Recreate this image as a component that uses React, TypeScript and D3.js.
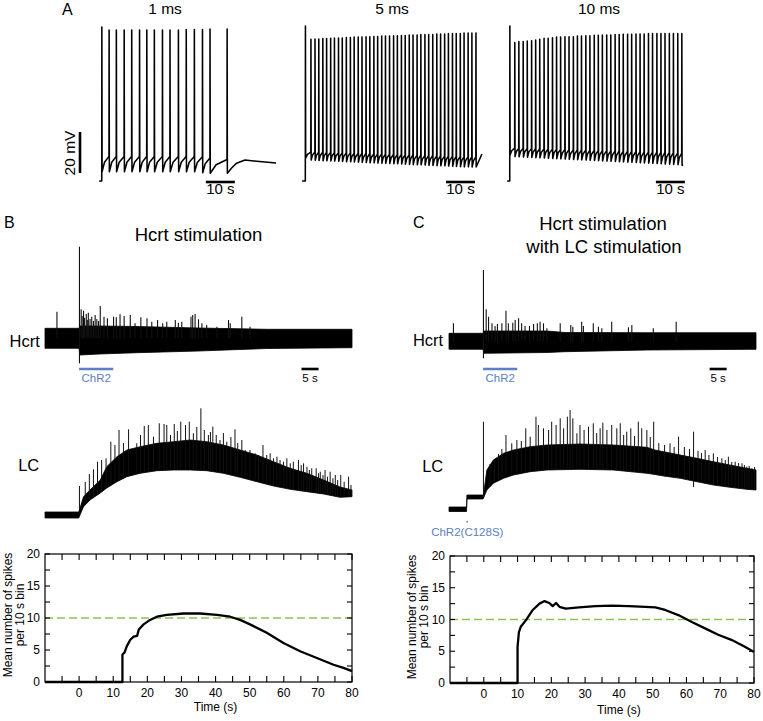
import React from "react";
import * as d3 from "d3";

const FONT = "'Liberation Sans', Arial, Helvetica, sans-serif";
const BLUE = "#5b80c3";
const GREEN = "#8cc153";

// ---------------- Panel A : membrane potential (t in s, V in mV) ----------------
const aTitles = ["1 ms", "5 ms", "10 ms"];

const spikeT1 = [0.6, 3.1, 5.6, 8.3, 10.9, 13.6, 16.1, 18.7, 21.5, 24.1, 27.0, 29.7, 32.5, 35.3, 37.9, 43.8];
const peak1 = [5.1, 3.7, 3.7, 3.7, 3.7, 3.7, 3.7, 3.7, 3.7, 3.7, 3.7, 3.9, 3.9, 3.9, 4.1, 4.1];
const thresh1 = [-70, -58.0, -58.0, -58.0, -58.0, -58.0, -58.0, -58.0, -58.0, -58.0, -58.0, -58.0, -58.0, -58.2, -58.8, -59.5];
const trough1 = [-65.5, -65.5, -65.5, -65.5, -65.5, -65.5, -65.5, -65.5, -65.5, -65.5, -65.5, -65.5, -65.5, -66.0, -66.2, -66.2];
const tail1T = [45.3, 47.1, 50.0, 53.0, 60.7];
const tail1V = [-63.8, -61.3, -59.8, -60.2, -61.2];

const spikeT5 = [0.8, 2.7, 4.1, 5.4, 6.8, 8.1, 9.5, 10.8, 12.2, 13.5, 14.9, 16.3, 17.6, 19.0, 20.3, 21.7, 23.0, 24.4, 25.7, 27.1, 28.4,
  29.8, 31.2, 32.5, 33.9, 35.2, 36.6, 37.9, 39.3, 40.6, 42.0, 43.3, 44.7, 46.1, 47.4, 48.8, 50.1, 51.5, 52.8, 54.2, 55.5, 56.9, 58.2, 59.6];
const peak5 = [5.6, -0.9, -0.7, -0.7, -0.5, -0.5, -0.4, -0.2, -0.2, -0.2, 0.0, 0.0, 0.2, 0.2, 0.2, 0.4, 0.4, 0.5, 0.5, 0.7,
  0.7, 0.7, 0.9, 0.9, 1.0, 1.0, 1.2, 1.2, 1.2, 1.4, 1.4, 1.5, 1.5, 1.7, 1.7, 1.7, 1.9, 1.9, 2.0, 2.0, 2.2, 2.2, 2.2, 2.2];
const thresh5 = [-70, -55.9, -55.9, -56.0, -56.0, -56.1, -56.1, -56.2, -56.3, -56.3,
  -56.4, -56.4, -56.5, -56.6, -56.6, -56.7, -56.7, -56.8, -56.9, -56.9,
  -57.0, -57.0, -57.1, -57.2, -57.2, -57.3, -57.3, -57.4, -57.5, -57.5,
  -57.6, -57.6, -57.7, -57.8, -57.8, -57.9, -57.9, -58.0, -58.1, -58.1,
  -58.2, -58.2, -58.3, -58.3];
const trough5 = [-58.8, -59.8, -59.9, -60.0, -60.1, -60.1, -60.2, -60.3, -60.4, -60.5,
  -60.6, -60.6, -60.7, -60.8, -60.9, -61.0, -61.1, -61.1, -61.2, -61.3,
  -61.4, -61.5, -61.6, -61.6, -61.7, -61.8, -61.9, -62.0, -62.1, -62.1,
  -62.2, -62.3, -62.4, -62.5, -62.6, -62.6, -62.7, -62.8, -62.9, -63.0,
  -63.1, -63.1, -63.2, -63.2];
const tail5T = [61.7];
const tail5V = [-56.8];

const spikeT10 = [0.6, 2.3, 3.7, 5.2, 6.6, 8.1, 9.5, 10.9, 12.4, 13.8, 15.3, 16.7, 18.1, 19.6, 21.0, 22.5, 23.9, 25.3, 26.8, 28.2, 29.7,
  31.1, 32.5, 34.0, 35.4, 36.9, 38.3, 39.7, 41.2, 42.6, 44.1, 45.5, 46.9, 48.4, 49.8, 51.3, 52.7, 54.1, 55.6, 57.0, 58.5, 59.9];
const peak10 = [5.6, -2.5, -2.0, -2.0, -1.7, -1.6, -1.2, -0.9, -0.4, -0.4, -0.1, 0.2, 0.2, 0.4, 0.4, 0.4, 0.7, 0.7, 0.9, 0.9, 1.1,
  1.1, 1.2, 1.2, 1.2, 1.4, 1.4, 1.6, 1.6, 1.6, 1.7, 1.7, 1.7, 1.9, 1.9, 1.9, 2.0, 2.0, 2.0, 2.0, 2.0, 2.0];
const thresh10 = [-70, -54.0, -54.1, -54.1, -54.2, -54.2, -54.3, -54.4, -54.4, -54.5, -54.5,
  -54.6, -54.7, -54.7, -54.8, -54.8, -54.9, -55.0, -55.0, -55.1, -55.1,
  -55.2, -55.3, -55.3, -55.4, -55.4, -55.5, -55.6, -55.6, -55.7, -55.7,
  -55.8, -55.9, -55.9, -56.0, -56.0, -56.1, -56.2, -56.2, -56.3, -56.4, -56.5];
const trough10 = [-57.3, -58.1, -58.2, -58.3, -58.4, -58.5, -58.6, -58.7, -58.8, -58.9, -59.0,
  -59.1, -59.2, -59.3, -59.4, -59.5, -59.6, -59.7, -59.8, -59.9, -60.0,
  -60.1, -60.2, -60.3, -60.4, -60.5, -60.6, -60.7, -60.8, -60.9, -61.0,
  -61.1, -61.2, -61.3, -61.4, -61.5, -61.6, -61.7, -61.8, -61.9, -62.0, -62.2];
const tail10T = [60.4];
const tail10V = [-62.4];

// ---------------- Panels B & C : extracellular traces (t in s from ChR2 onset, amplitude a.u.) ----------------
const hcrtB_T = [-10, 0, 0.2, 6, 17, 35, 55, 80];
const hcrtB_Hi = [9.7, 9.7, 12, 12, 11.5, 10, 8.7, 8.7];
const hcrtB_Lo = [-10.3, -10.3, -17, -16, -14.7, -13, -10.5, -9.7];
const hcrtB_SpT = [-6.5, 0.1, 0.6, 0.9, 1.3, 1.6, 2.1, 2.4, 2.7, 3.2, 3.7, 4.2, 4.7, 5.2, 5.7, 6.2, 7.3, 8.3, 10.1, 10.9,
  12.0, 13.2, 15.0, 16.4, 18.1, 19.9, 21.3, 23.0, 24.5, 25.7, 28.2, 29.1, 30.1, 32.8, 33.3, 34.0, 35.0, 36.0, 37.4, 40.4,
  43.8, 44.3, 47.7, 50.1];
const hcrtB_SpV = [26.3, 91.3, 28.7, 22, 27.3, 20, 24, 18, 25.3, 19, 21.3, 17, 23, 19, 17, 32, 21.3, 19.7, 21.3, 20.7,
  23.7, 22, 23, 14.7, 20.7, 19.7, 16.3, 18, 14.7, 16.3, 18, 15.3, 16.3, 21.3, 23, 24, 18.7, 14.7, 13, 11.3,
  18, 14.7, 21.3, 11.3];
const hcrtB_NegT = [0.1];
const hcrtB_NegV = [-25.3];

const lcB_T = [-10, -0.1, 0, 1.3, 3.2, 6.2, 8.1, 11.1, 14, 17.9, 22.8, 27.7, 32.6, 37.4, 42.3, 47.2, 52.1, 57, 61.9, 66.8, 71.7, 76.5, 80];
const lcB_Lo = [-3, -3, -2, 8.3, 15, 22, 27, 33.3, 38.3, 41.7, 44.3, 45, 45, 44.3, 41.7, 37.7, 33.3, 29, 25.7, 23.3, 21, 17.7, 18.3];
const lcB_Hi = [3, 3, 4, 18.3, 25, 35, 48.3, 58.3, 65, 68.3, 71.7, 73.3, 75, 73.3, 70, 65, 60, 53.3, 46.7, 41.7, 35, 28, 25];
const lcB_SpT = [0.1, 1.8, 3.0, 4.2, 5.4, 6.6, 7.9, 9.3, 10.5, 11.7, 13.0, 14.5, 16.9, 18.0, 19.1, 20.3, 21.8, 23.5, 24.9, 25.7,
  26.8, 27.9, 28.8, 29.8, 31.2, 32.3, 33.5, 34.5, 35.7, 36.7, 37.9, 38.5, 39.2, 40.2, 41.3, 42.3, 43.3, 44.5, 45.7, 46.5,
  47.7, 48.7, 50.1, 51.6, 52.6, 53.9, 55.0, 56.0, 57.0, 58.0, 58.9, 59.9, 60.9, 61.9, 62.8, 64.3, 65.1, 65.8, 66.8, 67.5,
  68.2, 69.5, 70.2, 70.7, 71.5, 72.1, 72.8, 73.6, 74.4, 75.1, 75.8, 76.7, 77.7, 79.0, 79.7];
const lcB_SpV = [29, 33, 41, 45.7, 53.3, 55, 56.7, 73.3, 70, 85, 72, 85.7, 71.7, 80, 89, 90, 78.3, 91.7, 91, 90,
  80, 91, 84, 93.3, 90, 93.3, 81.7, 88, 106.7, 85, 80, 83, 88.3, 80, 75, 82, 73.3, 78, 85.7, 72,
  75, 65, 65, 61.7, 60, 70, 60, 61.7, 56.7, 58.3, 55, 53.3, 56.7, 51.7, 53.3, 55, 50, 51.7, 48.3, 45,
  46.7, 46.7, 41.7, 43.3, 40, 45, 38.3, 43.3, 36.7, 40, 35, 40, 33.3, 38.3, 30];

const hcrtC_T = [-10, 0, 0.2, 18.7, 24, 48, 80];
const hcrtC_Hi = [8.2, 8.2, 10.5, 10.5, 9, 8.8, 8.8];
const hcrtC_Lo = [-7.8, -7.8, -11.8, -11, -10.2, -8.5, -7.8];
const hcrtC_SpT = [-8.7, 0.1, 0.9, 1.6, 2.6, 3.5, 4.2, 5.5, 6.7, 7.4, 8.7, 9.4, 10.4, 11.3, 12.3, 13.6, 14.8, 15.9, 16.7, 17.7,
  18.7, 22.6, 25.7, 26.3, 28.9, 29.4, 32.3, 33.8, 34.8, 37.7, 42.6, 43.6, 49.9, 56.6];
const hcrtC_SpV = [18.2, 71.5, 32.2, 24.8, 18.2, 15.5, 17.5, 18.2, 30.8, 18.2, 18.8, 21.5, 23.2, 18.2, 15.5, 15.5, 17.5, 18.2, 19.8, 18.2,
  13.2, 18.2, 16.5, 14.8, 19.8, 15.5, 18.2, 14.8, 13.2, 19.8, 14.2, 16.5, 13.2, 19.8];
const hcrtC_NegT = [0.1];
const hcrtC_NegV = [-16.8];

const lcC_T = [-10, -4.85, -4.75, -0.1, 0.1, 1.1, 3, 6, 8.9, 13.8, 18.7, 28.4, 38.2, 48, 50.4, 52.9, 57.8, 62.7, 67.5, 72.4, 77.3, 80];
const lcC_Lo = [-2.5, -2.5, 10, 10, 10.7, 19, 25.7, 30.7, 34, 37.3, 39, 39.7, 39, 35.7, 34.5, 33, 30.7, 27.3, 24, 21.7, 19.7, 19];
const lcC_Hi = [2, 2, 14, 14, 14, 39, 49, 55.7, 59, 62.3, 64, 65, 64, 61.7, 59, 57.3, 54, 50.7, 47.3, 44, 40.7, 39];
const lcC_SpT = [0.1, 2.0, 3.3, 4.5, 5.5, 6.7, 8.4, 9.9, 11.2, 12.5, 13.8, 15.5, 16.2, 17.7, 19.2, 20.1, 21.4, 22.6, 23.6, 24.7,
  25.5, 26.3, 27.5, 28.4, 29.6, 30.9, 32.3, 33.3, 34.3, 35.1, 36.3, 37.7, 39.2, 40.2, 41.2, 42.1, 43.3, 44.4, 45.5, 46.5,
  48.0, 49.0, 50.0, 51.5, 53.2, 54.8, 56.0, 57.3, 59.0, 60.5, 61.7, 63.0, 64.0, 65.1, 66.2, 67.5, 68.7, 70.0, 71.0, 71.9,
  72.9, 73.9, 74.9, 75.9, 76.6, 77.3, 78.0, 78.8, 79.6];
const lcC_SpV = [87.3, 45, 50, 55, 60, 74, 65.7, 69, 68, 80.7, 72.3, 92.3, 84, 80.7, 79, 87.3, 84, 90.7, 80.7, 92.3,
  99, 90.7, 75.7, 84, 79, 82.3, 85.7, 76, 80.7, 86.3, 79, 84, 80.7, 85.7, 74, 77.3, 80.7, 73, 87.3, 80.7,
  79, 72, 87.3, 66, 64, 65.7, 62, 72.3, 62, 60, 77.3, 58, 56, 59, 54, 55.7, 52, 50.7, 49, 52.3,
  47, 47.3, 46, 45.7, 44, 42.3, 43, 40.7, 42];
const lcC_NegT = [61.7];
const lcC_NegV = [22];

// ---------------- Spike-rate plots ----------------
const rateB_T = [-10, 12.7, 12.7, 13.3, 14, 15, 16, 17, 17.5, 18.9, 20.8, 22.8, 25.7, 30.6, 35.5, 40.4, 44.3, 47.2, 50.1, 55, 59.9, 64.8, 69.7, 74.6, 77.5, 80];
const rateB_V = [0, 0, 4.3, 4.6, 5.6, 6.6, 7.1, 7.2, 8.2, 9, 9.7, 10.2, 10.5, 10.7, 10.7, 10.5, 10.2, 9.7, 9, 7.7, 6.1, 4.8, 3.75, 2.7, 2.2, 1.7];
const rateC_T = [-10, 10, 10, 10.4, 11, 12.5, 14.5, 16.5, 18, 19.4, 20.4, 21.4, 22.4, 24.3, 28.2, 33.1, 38, 42.9, 47.8, 50.8, 53.7, 57.6, 61.6, 65.5, 69.4, 73.3, 77.3, 80];
const rateC_V = [0, 0, 5.7, 8, 8.9, 9.9, 11.5, 12.5, 12.9, 12.6, 12.1, 12.6, 12, 11.7, 11.9, 12.1, 12.2, 12.1, 12, 11.9, 11.5, 10.7, 9.6, 8.6, 7.6, 6.8, 5.7, 4.9];
const xTickLabels = [0, 10, 20, 30, 40, 50, 60, 70, 80];
const xMinorTicks = [-5, 5, 15, 25, 35, 45, 55, 65, 75];
const yTickLabels = [0, 5, 10, 15, 20];
const yMinorTicks = [2.5, 7.5, 12.5, 17.5];
const refLevel = 10;

type P = [number, number];

function trainPoints(T: number[], Pk: number[], Th: number[], Tr: number[], tailT: number[], tailV: number[]): P[] {
  const pts: P[] = [[-0.3, -70]];
  for (let i = 0; i < T.length; i++) {
    const tr = Tr[i];
    pts.push([T[i], Th[i]], [T[i] + 0.04, Pk[i]], [T[i] + 0.12, tr]);
    if (i + 1 < T.length) {
      const t0 = T[i] + 0.12;
      const dt = T[i + 1] - t0;
      pts.push([t0 + dt * 0.35, tr + (Th[i + 1] - tr) * 0.62]);
    }
  }
  tailT.forEach((t, k) => pts.push([t, tailV[k]]));
  return pts;
}

function Train({ x0, T, Pk, Th, Tr, tailT, tailV, barT }: any) {
  const x = d3.scaleLinear().domain([0, 10]).range([x0, x0 + 29]);
  const y = d3.scaleLinear().domain([-70, -50]).range([181, 140]);
  const pts = trainPoints(T, Pk, Th, Tr, tailT, tailV);
  const d = d3.line<P>().x((p) => x(p[0])).y((p) => y(p[1]))(pts) || "";
  return (
    <g>
      <path d={d} fill="none" stroke="#000" strokeWidth={1.55} strokeLinejoin="round" />
      <line x1={x(barT)} x2={x(barT + 10)} y1={182} y2={182} stroke="#000" strokeWidth={2.6} />
      <text x={x(barT + 5)} y={194} fontSize={15} textAnchor="middle">10 s</text>
    </g>
  );
}

function Band({ x, y, T, Lo, Hi }: any) {
  const idx = T.map((_: number, i: number) => i);
  const d = d3.area<number>().x((i) => x(T[i])).y0((i) => y(Lo[i])).y1((i) => y(Hi[i]))(idx) || "";
  return <path d={d} fill="#000" stroke="#000" strokeWidth={0.8} />;
}

function Spikes({ x, y, T, V, baseT, baseV, sw = 1 }: any) {
  const base = d3.scaleLinear().domain(baseT).range(baseV).clamp(true);
  return (
    <g stroke="#111" strokeWidth={sw}>
      {T.map((t: number, i: number) => (
        <line key={i} x1={x(t)} x2={x(t)} y1={y(base(t))} y2={y(V[i])} />
      ))}
    </g>
  );
}

function TracePanel({ left, right, hcrtMid, lcBase, hT, hHi, hLo, hSpT, hSpV, hNegT, hNegV, lT, lLo, lHi, lSpT, lSpV, lNegT, lNegV, barT }: any) {
  const x = d3.scaleLinear().domain([-10, 80]).range([left, right]);
  const yh = d3.scaleLinear().domain([0, 100]).range([hcrtMid, hcrtMid - 100]);
  const yl = d3.scaleLinear().domain([0, 100]).range([lcBase, lcBase - 100]);
  return (
    <g>
      <Band x={x} y={yh} T={hT} Lo={hLo} Hi={hHi} />
      <Spikes x={x} y={yh} T={hSpT} V={hSpV} baseT={hT} baseV={hHi.map(() => 0)} sw={1.1} />
      <Spikes x={x} y={yh} T={hNegT} V={hNegV} baseT={hT} baseV={hT.map(() => 0)} sw={1.1} />
      <Band x={x} y={yl} T={lT} Lo={lLo} Hi={lHi} />
      <Spikes x={x} y={yl} T={lSpT} V={lSpV} baseT={lT} baseV={lLo} sw={1} />
      <Spikes x={x} y={yl} T={lNegT} V={lNegV} baseT={lT} baseV={lHi} sw={1} />
      <line x1={x(0)} x2={x(10)} y1={369} y2={369} stroke={BLUE} strokeWidth={2.6} />
      <text x={x(5)} y={382} fontSize={11.5} textAnchor="middle" fill={BLUE}>ChR2</text>
      <line x1={x(barT)} x2={x(barT + 5)} y1={369} y2={369} stroke="#000" strokeWidth={2.6} />
      <text x={x(barT + 2.5)} y={382} fontSize={11.5} textAnchor="middle">5 s</text>
    </g>
  );
}

function RateChart({ left, right, top, bottom, T, V, lab1x, lab2x, labY, titleY }: any) {
  const x = d3.scaleLinear().domain([-10, 80]).range([left, right]);
  const y = d3.scaleLinear().domain([0, 20]).range([bottom, top]);
  const idx = T.map((_: number, i: number) => i);
  const d = d3.line<number>().x((i) => x(T[i])).y((i) => y(V[i]))(idx) || "";
  const tl = 6;
  const yl = 5;
  return (
    <g>
      <line x1={left} x2={right} y1={y(refLevel)} y2={y(refLevel)} stroke={GREEN} strokeWidth={1.7} strokeDasharray="8 4" />
      <path d={d} fill="none" stroke="#000" strokeWidth={2.3} strokeLinejoin="round" />
      <rect x={left} y={top} width={right - left} height={bottom - top} fill="none" stroke="#000" strokeWidth={1.2} />
      <g stroke="#000" strokeWidth={1.1}>
        {[...xTickLabels, ...xMinorTicks].map((t) => (
          <g key={"x" + t}>
            <line x1={x(t)} x2={x(t)} y1={bottom} y2={bottom - tl} />
            <line x1={x(t)} x2={x(t)} y1={top} y2={top + tl} />
          </g>
        ))}
        {[...yTickLabels, ...yMinorTicks].map((v) => (
          <g key={"y" + v}>
            <line x1={left} x2={left + yl} y1={y(v)} y2={y(v)} />
            <line x1={right} x2={right - yl} y1={y(v)} y2={y(v)} />
          </g>
        ))}
      </g>
      <g fontSize={12}>
        {xTickLabels.map((t) => (
          <text key={"xl" + t} x={x(t)} y={bottom + 15} textAnchor="middle">{t}</text>
        ))}
        {yTickLabels.map((v) => (
          <text key={"yl" + v} x={left - 5} y={y(v) + 4} textAnchor="end">{v}</text>
        ))}
        <text x={x(40)} y={titleY} textAnchor="middle">Time (s)</text>
        <text transform={`translate(${lab1x},${labY}) rotate(-90)`} textAnchor="middle">Mean number of spikes</text>
        <text transform={`translate(${lab2x},${labY}) rotate(-90)`} textAnchor="middle">per 10 s bin</text>
      </g>
    </g>
  );
}

export default function App() {
  const ax = [165, 392, 599];
  return (
    <svg width={763} height={721} style={{ position: "absolute", left: 0, top: 0, background: "#fff" }} fontFamily={FONT}>
      <rect width={763} height={721} fill="#fff" />
      {/* Panel A */}
      <text x={62} y={15} fontSize={16}>A</text>
      {aTitles.map((t, i) => (
        <text key={t} x={ax[i]} y={14} fontSize={15.5} textAnchor="middle">{t}</text>
      ))}
      <Train x0={100} T={spikeT1} Pk={peak1} Th={thresh1} Tr={trough1} tailT={tail1T} tailV={tail1V} barT={36.5} />
      <Train x0={303} T={spikeT5} Pk={peak5} Th={thresh5} Tr={trough5} tailT={tail5T} tailV={tail5V} barT={49.3} />
      <Train x0={508} T={spikeT10} Pk={peak10} Th={thresh10} Tr={trough10} tailT={tail10T} tailV={tail10V} barT={51} />
      <line x1={80} x2={80} y1={132} y2={173} stroke="#000" strokeWidth={2.6} />
      <text transform="translate(75,153) rotate(-90)" fontSize={15.5} textAnchor="middle">20 mV</text>

      {/* Panel B */}
      <text x={4} y={228} fontSize={16}>B</text>
      <text x={198.5} y={241} fontSize={18.5} textAnchor="middle">Hcrt stimulation</text>
      <text x={24.7} y={347} fontSize={16.5} textAnchor="middle">Hcrt</text>
      <text x={28.7} y={471} fontSize={16.5} textAnchor="middle">LC</text>
      <TracePanel left={45} right={352} hcrtMid={338} lcBase={515}
        hT={hcrtB_T} hHi={hcrtB_Hi} hLo={hcrtB_Lo} hSpT={hcrtB_SpT} hSpV={hcrtB_SpV} hNegT={hcrtB_NegT} hNegV={hcrtB_NegV}
        lT={lcB_T} lLo={lcB_Lo} lHi={lcB_Hi} lSpT={lcB_SpT} lSpV={lcB_SpV} lNegT={[]} lNegV={[]} barT={65.2} />
      <RateChart left={45} right={352} top={554} bottom={682} T={rateB_T} V={rateB_V} lab1x={12} lab2x={24} labY={615} titleY={711} />

      {/* Panel C */}
      <text x={413} y={228} fontSize={16}>C</text>
      <text x={603} y={230} fontSize={18.5} textAnchor="middle">Hcrt stimulation</text>
      <text x={604} y={253} fontSize={18.5} textAnchor="middle">with LC stimulation</text>
      <text x={428} y={346} fontSize={16.5} textAnchor="middle">Hcrt</text>
      <text x={432.7} y={471.5} fontSize={16.5} textAnchor="middle">LC</text>
      <TracePanel left={449} right={756} hcrtMid={341.5} lcBase={509}
        hT={hcrtC_T} hHi={hcrtC_Hi} hLo={hcrtC_Lo} hSpT={hcrtC_SpT} hSpV={hcrtC_SpV} hNegT={hcrtC_NegT} hNegV={hcrtC_NegV}
        lT={lcC_T} lLo={lcC_Lo} lHi={lcC_Hi} lSpT={lcC_SpT} lSpV={lcC_SpV} lNegT={lcC_NegT} lNegV={lcC_NegV} barT={66.4} />
      <circle cx={467.3} cy={521.7} r={0.9} fill={BLUE} />
      <text x={467.3} y={535.5} fontSize={11.5} textAnchor="middle" fill={BLUE}>ChR2(C128S)</text>
      <RateChart left={450} right={754} top={556} bottom={683} T={rateC_T} V={rateC_V} lab1x={416} lab2x={428} labY={617} titleY={714} />
    </svg>
  );
}
